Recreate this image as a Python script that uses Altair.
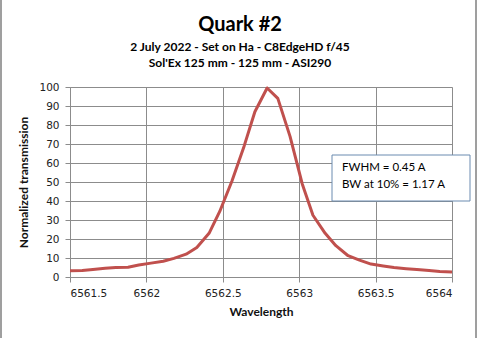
import altair as alt
import pandas as pd

wavelength = [6561.50, 6561.58, 6561.65, 6561.73, 6561.80, 6561.88, 6561.95, 6562.03,
              6562.11, 6562.18, 6562.26, 6562.33, 6562.41, 6562.48, 6562.56, 6562.64,
              6562.71, 6562.79, 6562.86, 6562.94, 6563.02, 6563.09, 6563.17, 6563.24,
              6563.32, 6563.39, 6563.47, 6563.55, 6563.62, 6563.70, 6563.77, 6563.85,
              6563.92, 6564.00]
transmission = [3.3, 3.4, 4.0, 4.6, 5.0, 5.1, 6.3, 7.3,
                8.3, 9.8, 12.0, 15.5, 23.0, 34.5, 50.5, 69.0,
                87.0, 99.5, 94.0, 74.0, 49.0, 32.5, 23.0, 16.5,
                11.2, 9.0, 6.8, 5.8, 5.0, 4.4, 3.9, 3.4,
                2.9, 2.6]
x_ticks = [6561.5, 6562, 6562.5, 6563, 6563.5, 6564]
y_ticks = [0, 10, 20, 30, 40, 50, 60, 70, 80, 90, 100]
title_text = "Quark #2"
subtitle_lines = ["2 July 2022 - Set on Ha - C8EdgeHD  f/45", "Sol'Ex 125 mm - 125 mm - ASI290"]
note_lines = ["FWHM = 0.45 A", "BW at 10% = 1.17 A"]

df = pd.DataFrame({"wl": wavelength, "t": transmission})
one = pd.DataFrame({"k": [0]})

W, H = 382, 190
GRID = "#8c8c8c"

x_enc = alt.X("wl:Q", scale=alt.Scale(domain=[6561.5, 6564], nice=False, zero=False),
              axis=alt.Axis(values=x_ticks, title="Wavelength", format="~g",
                            labelFont="DejaVu Sans", labelFontSize=10.5, labelColor="#222",
                            labelPadding=6, tickSize=5, tickColor=GRID, domainColor=GRID,
                            gridColor=GRID, titleFont="Lato", titleFontSize=12,
                            titleFontWeight="bold", titleColor="#111", titlePadding=8))
y_enc = alt.Y("t:Q", scale=alt.Scale(domain=[0, 100], nice=False),
              axis=alt.Axis(values=y_ticks, title="Normalized transmission",
                            labelFont="DejaVu Sans", labelFontSize=10.5, labelColor="#222",
                            labelPadding=6, tickSize=5, tickColor=GRID, domainColor=GRID,
                            gridColor=GRID, titleFont="Lato", titleFontSize=12,
                            titleFontWeight="bold", titleColor="#111", titlePadding=8))

line = alt.Chart(df).mark_line(color="#c0504d", strokeWidth=3, strokeJoin="round").encode(
    x=x_enc, y=y_enc)

box = alt.Chart(one).mark_rect(
    fill="white", stroke="#6b8bb0", strokeWidth=1).encode(
    x=alt.value(262), x2=alt.value(400), y=alt.value(68), y2=alt.value(114))

def txt(s, x, y, size, weight="normal", align="left", baseline="middle"):
    return alt.Chart(one).mark_text(
        text=s, align=align, baseline=baseline, font="Lato", fontSize=size,
        fontWeight=weight, color="#000").encode(x=alt.value(x), y=alt.value(y))

notes = [txt(note_lines[0], 272, 81, 11.5), txt(note_lines[1], 272, 98, 11.5)]
titles = [
    txt(title_text, 170, -56, 20, "bold", "center", "alphabetic"),
    txt(subtitle_lines[0], 170, -36, 12, "bold", "center", "alphabetic"),
    txt(subtitle_lines[1], 170, -20, 12, "bold", "center", "alphabetic"),
]

borders = alt.Chart(pd.DataFrame({"b": [-69, 406]})).mark_rule(
    color="#7f7f7f", strokeWidth=1.5).encode(
    x=alt.X("b:Q", scale=alt.Scale(domain=[0, W], range=[0, W]), axis=None),
    y=alt.value(-90), y2=alt.value(260))

chart = alt.layer(line, box, *notes, *titles, borders).resolve_scale(
    x="independent", y="independent").properties(
    width=W, height=H,
    autosize=alt.AutoSizeParams(type="none"),
    padding={"left": 70, "top": 87, "right": 29, "bottom": 61},
).configure_view(stroke=None).configure(background="white")

chart.save("out.html", embed_options={"renderer": "svg", "actions": False})
